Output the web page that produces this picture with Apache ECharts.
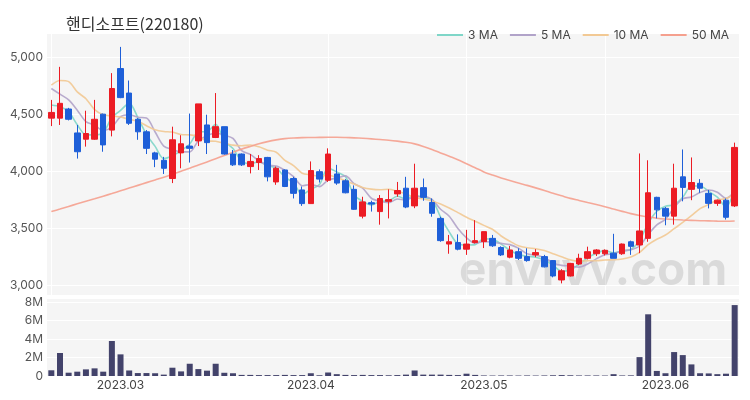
<!DOCTYPE html>
<html>
<head>
<meta charset="utf-8">
<script src="https://cdn.jsdelivr.net/npm/echarts@6/dist/echarts.min.js"></script>
<style>html,body{margin:0;padding:0;background:#fff}#c{width:750px;height:400px}</style>
</head>
<body>
<div id="c"></div>
<script>
const dates = [
 '2023-02-17','2023-02-20','2023-02-21','2023-02-22','2023-02-23','2023-02-24','2023-02-27','2023-02-28',
 '2023-03-02','2023-03-03','2023-03-06','2023-03-07','2023-03-08','2023-03-09','2023-03-10','2023-03-13','2023-03-14','2023-03-15','2023-03-16','2023-03-17','2023-03-20','2023-03-21','2023-03-22','2023-03-23','2023-03-24','2023-03-27','2023-03-28','2023-03-29','2023-03-30','2023-03-31',
 '2023-04-03','2023-04-04','2023-04-05','2023-04-06','2023-04-07','2023-04-10','2023-04-11','2023-04-12','2023-04-13','2023-04-14','2023-04-17','2023-04-18','2023-04-19','2023-04-20','2023-04-21','2023-04-24','2023-04-25','2023-04-26','2023-04-27','2023-04-28',
 '2023-05-01','2023-05-02','2023-05-03','2023-05-04','2023-05-08','2023-05-09','2023-05-10','2023-05-11','2023-05-12','2023-05-15','2023-05-16','2023-05-17','2023-05-18','2023-05-19','2023-05-22','2023-05-23','2023-05-24','2023-05-25','2023-05-26','2023-05-30','2023-05-31',
 '2023-06-01','2023-06-02','2023-06-05','2023-06-07','2023-06-08','2023-06-09','2023-06-12','2023-06-13','2023-06-14'
];
const opens = [
 4470,4470,4550,4340,4285,4285,4505,4365,4905,4690,
 4460,4350,4165,4100,3940,4165,4225,4270,4410,4300,
 4395,4155,4155,4045,4080,4125,3910,4015,3940,3840,
 3720,4000,3925,3980,3920,3845,3610,3728,3650,3740,
 3805,3855,3700,3860,3730,3590,3365,3378,3320,3378,
 3386,3415,3335,3250,3298,3255,3270,3255,3220,3050,
 3085,3190,3240,3280,3280,3285,3280,3385,3357,3415,
 3775,3678,3610,3955,3845,3898,3810,3722,3750,3700
];
const closes = [
 4520,4600,4460,4175,4335,4460,4235,4730,4650,4425,
 4350,4205,4110,4030,4280,4245,4205,4595,4255,4395,
 4155,4060,4060,4090,4115,3955,4030,3870,3810,3720,
 4010,3935,4155,3900,3815,3670,3735,3716,3765,3755,
 3835,3690,3855,3775,3635,3395,3385,3320,3365,3395,
 3474,3350,3270,3313,3240,3220,3290,3165,3085,3130,
 3195,3240,3298,3313,3310,3240,3365,3345,3480,3815,
 3665,3610,3855,3862,3905,3855,3722,3750,3600,4213
];
const lows = [
 4400,4410,4450,4115,4220,4280,4175,4310,4645,4410,
 4280,4155,4040,3980,3900,4030,4080,4225,4155,4295,
 4150,4050,4050,3985,4015,3915,3885,3865,3765,3700,
 3720,3905,3910,3885,3810,3665,3590,3650,3535,3590,
 3780,3680,3680,3745,3605,3385,3280,3310,3270,3370,
 3330,3340,3260,3240,3225,3210,3250,3160,3073,3020,
 3080,3180,3230,3260,3265,3240,3270,3270,3285,3385,
 3590,3530,3535,3740,3750,3815,3678,3700,3580,3690
];
const highs = [
 4630,4920,4560,4410,4535,4630,4510,4865,5095,4800,
 4470,4365,4175,4130,4395,4320,4510,4595,4500,4690,
 4395,4190,4160,4155,4145,4130,4045,4020,3955,3870,
 4090,4020,4205,4060,3935,3880,3780,3745,3795,3845,
 3910,3955,4070,3940,3765,3605,3445,3450,3490,3575,
 3474,3445,3345,3348,3328,3328,3320,3270,3225,3145,
 3200,3280,3342,3320,3318,3455,3370,3395,4160,4100,
 3780,3690,4070,4195,4125,3935,3840,3755,3765,4255
];
const volumes = [
 620000,2500000,360000,470000,720000,830000,470000,3800000,2350000,600000,
 320000,320000,300000,150000,900000,500000,1330000,750000,580000,1330000,
 350000,300000,120000,120000,100000,100000,100000,120000,100000,100000,
 300000,80000,380000,200000,120000,100000,120000,100000,100000,80000,
 100000,150000,600000,150000,150000,150000,120000,100000,250000,120000,
 60000,50000,60000,60000,50000,60000,50000,60000,80000,100000,
 80000,60000,60000,60000,50000,200000,60000,70000,2050000,6700000,
 550000,300000,2600000,2270000,1260000,300000,280000,200000,250000,7700000
];
const ma3 = [
 4585,4570,4527,4412,4323,4323,4343,4475,4538,4602,
 4475,4327,4222,4115,4140,4185,4243,4348,4352,4415,
 4268,4203,4092,4070,4088,4053,4033,3952,3903,3800,
 3847,3888,4033,3997,3957,3795,3740,3707,3739,3745,
 3785,3760,3793,3773,3755,3602,3472,3367,3357,3360,
 3411,3406,3365,3311,3274,3258,3250,3225,3180,3127,
 3137,3188,3244,3284,3307,3288,3305,3317,3397,3547,
 3653,3697,3710,3776,3874,3874,3827,3776,3691,3854
];
const ma5 = [
 4730,4680,4630,4540,4440,4410,4360,4390,4482,4500,
 4478,4472,4348,4224,4195,4174,4174,4271,4316,4339,
 4321,4292,4185,4152,4096,4056,4050,4012,3956,3877,
 3888,3869,3926,3944,3963,3895,3855,3767,3740,3728,
 3761,3752,3780,3782,3758,3670,3609,3502,3420,3372,
 3388,3381,3371,3360,3329,3279,3267,3246,3200,3178,
 3173,3163,3190,3235,3271,3280,3305,3315,3348,3449,
 3534,3583,3685,3761,3779,3817,3840,3819,3766,3828
];
const ma10 = [
 4760,4800,4790,4700,4640,4545,4500,4490,4480,4459,
 4442,4403,4368,4353,4348,4326,4323,4310,4270,4267,
 4248,4233,4228,4234,4218,4189,4171,4099,4054,3987,
 3972,3960,3969,3950,3920,3892,3862,3847,3842,3846,
 3828,3804,3774,3761,3743,3716,3681,3641,3601,3565,
 3529,3495,3436,3390,3351,3333,3324,3308,3280,3254,
 3226,3215,3218,3218,3225,3227,3234,3252,3292,3360,
 3407,3444,3500,3555,3614,3676,3712,3752,3764,3804
];
const ma50 = [
 3650,3672,3695,3718,3740,3762,3785,3808,3832,3856,
 3880,3904,3928,3952,3978,4004,4030,4058,4086,4114,
 4142,4170,4198,4222,4245,4264,4279,4290,4296,4299,
 4300,4301,4302,4302,4300,4297,4293,4288,4282,4276,
 4268,4258,4244,4222,4195,4165,4135,4105,4070,4035,
 3998,3970,3945,3922,3900,3880,3858,3835,3810,3788,
 3766,3748,3730,3712,3693,3672,3652,3632,3615,3602,
 3592,3585,3580,3576,3573,3570,3568,3566,3565,3568
];
const title = '핸디소프트(220180)';
const maNames = ['3 MA','5 MA','10 MA','50 MA'];
const watermark = 'envrvv.com';

const UP = '#ec1c24', DOWN = '#1e5fd8';
const maColors = ['#7fd6c8','#b1a3c9','#f2c994','#f5a08e'];
const FONT = 'Inter, "Noto Sans CJK KR", sans-serif';

const candleData = dates.map((d, i) => [opens[i], closes[i], lows[i], highs[i]]);
const firstOfMonth = (idx) => idx > 0 && dates[idx].slice(0,7) !== dates[idx-1].slice(0,7);

const chart = echarts.init(document.getElementById('c'), null, {renderer: 'canvas'});
const maSeries = [ma3, ma5, ma10, ma50].map((arr, k) => ({
  name: maNames[k], type: 'line', data: arr, xAxisIndex: 0, yAxisIndex: 0,
  symbol: 'none', smooth: 0.3, z: 3,
  lineStyle: {width: 1.6, color: maColors[k], opacity: 0.9},
  itemStyle: {color: maColors[k]}
}));

chart.setOption({
  animation: false,
  backgroundColor: '#ffffff',
  textStyle: {fontFamily: FONT},
  title: {text: title, left: 61, top: 11, textStyle: {fontSize: 16, fontWeight: 'normal', color: '#333', fontFamily: '"Noto Sans CJK KR", sans-serif'}},
  legend: {
    data: maNames.map(n => ({name: n, icon: 'rect'})), right: 16, top: 24, itemWidth: 26, itemHeight: 2, itemGap: 12,
    textStyle: {fontSize: 12, color: '#444', fontFamily: FONT}
  },
  graphic: [{type: 'text', left: 459, top: 248, z: 1, silent: true,
    style: {text: watermark, font: 'bold 46px Inter, sans-serif', fill: 'rgba(0,0,0,0.11)'}}],
  grid: [
    {left: 47, right: 11, top: 33, height: 262, show: true, backgroundColor: '#f5f5f5', borderWidth: 0},
    {left: 47, right: 11, top: 298, height: 78, show: true, backgroundColor: '#f5f5f5', borderWidth: 0}
  ],
  xAxis: [
    {type: 'category', data: dates, gridIndex: 0, boundaryGap: true,
      axisLine: {show: false}, axisTick: {show: false}, axisLabel: {show: false},
      splitLine: {show: true, interval: 15, alignWithLabel: true, lineStyle: {color: '#ffffff', width: 1}}},
    {type: 'category', data: dates, gridIndex: 1, boundaryGap: true,
      axisLine: {show: false}, axisTick: {show: false},
      axisLabel: {interval: (idx) => firstOfMonth(idx), formatter: (v) => v.slice(0,4) + '.' + v.slice(5,7),
        margin: 3, fontSize: 12, color: '#444', fontFamily: FONT},
      splitLine: {show: false}}
  ],
  yAxis: [
    {type: 'value', gridIndex: 0, min: 2918, max: 5217, splitNumber: 5, scale: true,
      axisLine: {show: false}, axisTick: {show: false},
      axisLabel: {showMinLabel: false, showMaxLabel: false, margin: 4, fontSize: 12, color: '#555', fontFamily: FONT},
      splitLine: {lineStyle: {color: '#ffffff', width: 1}}},
    {type: 'value', gridIndex: 1, min: 0, max: 8470000, interval: 2000000,
      axisLine: {show: false}, axisTick: {show: false},
      axisLabel: {showMaxLabel: false, margin: 4, fontSize: 12, color: '#555', fontFamily: FONT,
        formatter: (v) => v === 0 ? '0' : (v / 1e6) + 'M'},
      splitLine: {lineStyle: {color: '#ffffff', width: 1}}}
  ],
  series: [
    {name: 'price', type: 'candlestick', data: candleData, xAxisIndex: 0, yAxisIndex: 0, barWidth: 6, z: 4,
      itemStyle: {color: UP, color0: DOWN, borderColor: UP, borderColor0: DOWN, borderWidth: 1}},
    ...maSeries,
    {name: 'volume', type: 'bar', data: volumes, xAxisIndex: 1, yAxisIndex: 1, barWidth: 6,
      itemStyle: {color: '#43436b'}}
  ]
});
</script>
</body>
</html>
